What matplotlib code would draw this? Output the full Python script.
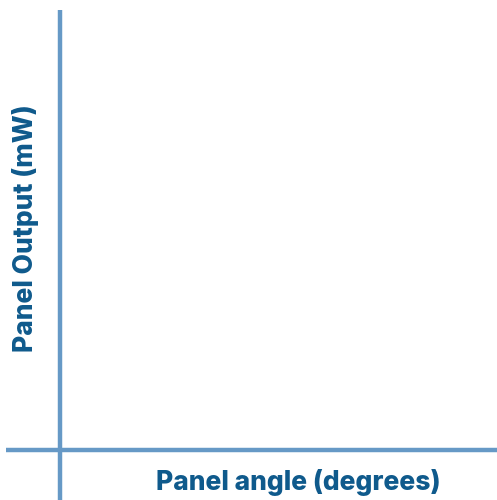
import matplotlib
matplotlib.use("Agg")
import matplotlib.pyplot as plt

x_label = "Panel angle (degrees)"
y_label = "Panel Output (mW)"

W, H = 497, 500
fig = plt.figure(figsize=(W / 100, H / 100), dpi=100)
ax = fig.add_axes([0, 0, 1, 1])
ax.set_xlim(0, W)
ax.set_ylim(H, 0)
ax.axis("off")

line_color = "#6699C6"
text_color = "#0F5A8C"

# axis lines
ax.plot([60, 60], [10, H], color=line_color, lw=3.2, solid_capstyle="butt")
ax.plot([6, W], [449.5, 449.5], color=line_color, lw=3.2, solid_capstyle="butt")

ax.text(298, 483, x_label, ha="center", va="center", fontsize=19,
        fontweight="heavy", color=text_color, family="Inter")
ax.text(26, 228, y_label, ha="center", va="center", rotation=90, fontsize=19,
        fontweight="heavy", color=text_color, family="Inter")

fig.savefig("out.png", dpi=100)
